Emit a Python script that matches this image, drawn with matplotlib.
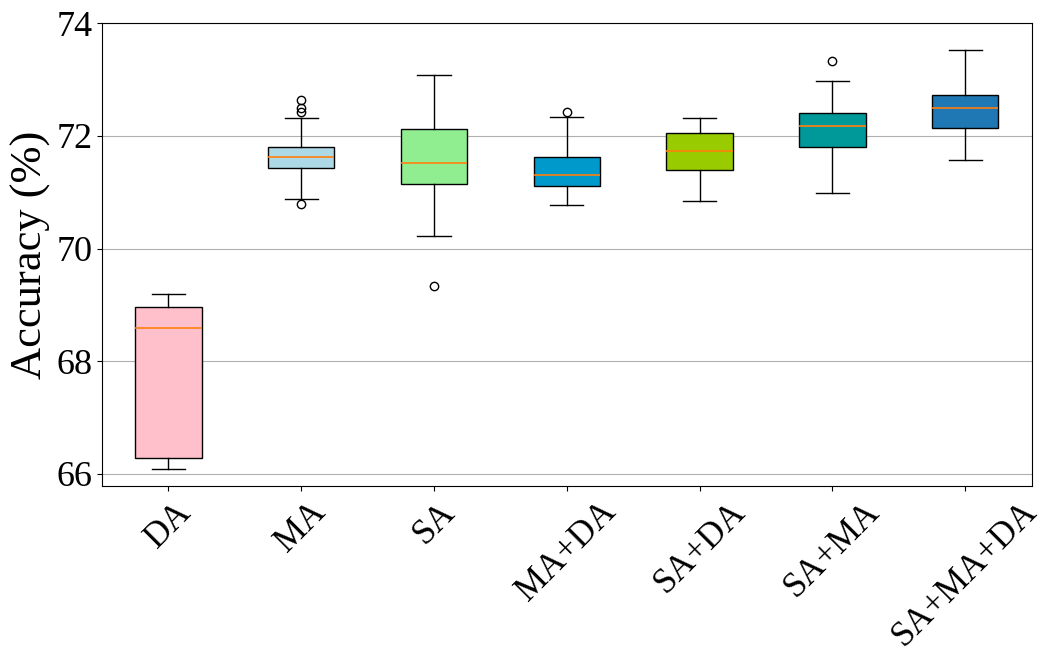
import matplotlib.pyplot as plt
from matplotlib import font_manager

FONT = "Liberation Serif"
# refresh the font cache if it points at a missing file, so the serif face is really used
font_manager.findfont(FONT)
plt.rcParams['font.family'] = [FONT, 'DejaVu Serif']

# box statistics (accuracy, %)
methods = ["DA", "MA", "SA", "MA+DA", "SA+DA", "SA+MA", "SA+MA+DA"]
whislo = [66.08, 70.88, 70.22, 70.77, 70.85, 70.99, 71.57]
q1 = [66.28, 71.43, 71.14, 71.11, 71.40, 71.80, 72.15]
med = [68.59, 71.63, 71.52, 71.31, 71.74, 72.18, 72.49]
q3 = [68.97, 71.80, 72.12, 71.63, 72.06, 72.40, 72.72]
whishi = [69.20, 72.32, 73.09, 72.34, 72.32, 72.98, 73.52]
fliers = [[], [70.80, 72.42, 72.49, 72.64], [69.34], [72.43], [], [73.33], []]
colors = ["pink", "lightblue", "lightgreen", "#0099CC", "#99CC00", "#009999", "#1F77B4"]
yticks = [66, 68, 70, 72, 74]

stats = []
for i in range(len(methods)):
    stats.append(dict(label=methods[i], whislo=whislo[i], q1=q1[i], med=med[i],
                      q3=q3[i], whishi=whishi[i], fliers=fliers[i]))

fig, ax = plt.subplots(figsize=(10.57, 6.68), dpi=100)
fig.subplots_adjust(left=0.0965, right=0.976, top=0.965, bottom=0.273)

bp = ax.bxp(stats, widths=0.5, patch_artist=True,
            medianprops=dict(color="#ff7f0e", linewidth=1.2))
for patch, c in zip(bp["boxes"], colors):
    patch.set_facecolor(c)
    patch.set_edgecolor("black")

ax.set_ylim(65.79, 74.0)
ax.set_yticks(yticks)
ax.set_yticklabels([str(t) for t in yticks], fontfamily=FONT, fontsize=26)
ax.set_xticklabels(methods, fontfamily=FONT, fontsize=25, rotation=45)
ax.yaxis.grid(True, color="#b0b0b0")
ax.set_ylabel("Accuracy (%)", fontfamily=FONT, fontsize=32)

fig.savefig("out.png")
